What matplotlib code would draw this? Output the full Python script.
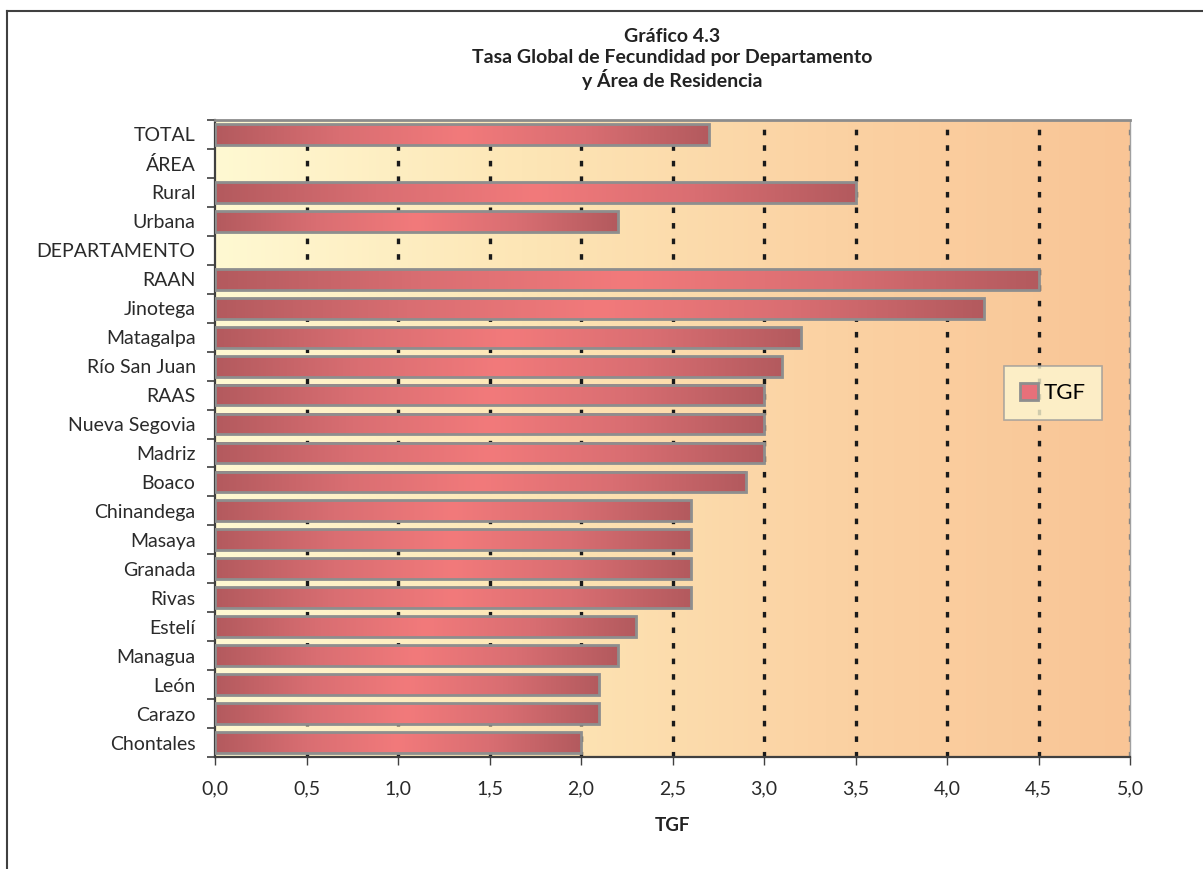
import numpy as np
import matplotlib
matplotlib.use("Agg")
import matplotlib.pyplot as plt
from matplotlib.colors import LinearSegmentedColormap
from matplotlib.patches import Rectangle
from matplotlib.lines import Line2D

plt.rcParams['font.family'] = ['Lato', 'DejaVu Sans']
plt.rcParams['lines.scale_dashes'] = False

categories = ["TOTAL", "ÁREA", "Rural", "Urbana", "DEPARTAMENTO", "RAAN", "Jinotega",
              "Matagalpa", "Río San Juan", "RAAS", "Nueva Segovia", "Madriz", "Boaco",
              "Chinandega", "Masaya", "Granada", "Rivas", "Estelí", "Managua", "León",
              "Carazo", "Chontales"]
values = [2.7, None, 3.5, 2.2, None, 4.5, 4.2, 3.2, 3.1, 3.0, 3.0, 3.0, 2.9,
          2.6, 2.6, 2.6, 2.6, 2.3, 2.2, 2.1, 2.1, 2.0]
xticks = [0.0, 0.5, 1.0, 1.5, 2.0, 2.5, 3.0, 3.5, 4.0, 4.5, 5.0]
xticklabels = ["0,0", "0,5", "1,0", "1,5", "2,0", "2,5", "3,0", "3,5", "4,0", "4,5", "5,0"]
title_lines = ["Gráfico 4.3", "Tasa Global de Fecundidad por Departamento", "y Área de Residencia"]
series_name = "TGF"
xlabel = "TGF"

W, H = 1203, 869
fig = plt.figure(figsize=(W / 100, H / 100), dpi=100)
ax = fig.add_axes([215 / W, 1 - 757 / H, (1130 - 215) / W, (757 - 120) / H])

# background gradient
bg_cmap = LinearSegmentedColormap.from_list("bg", ["#fff9d2", "#fde6b6", "#fbd2a3", "#f9c596"])
grad = np.linspace(0, 1, 256).reshape(1, -1)
ax.imshow(grad, cmap=bg_cmap, aspect='auto', extent=(0, 1, 0, 1),
          transform=ax.transAxes, zorder=0)

n = len(categories)
ax.set_xlim(0, 5)
ax.set_ylim(n - 0.5, -0.5)

# grid lines
for x in xticks[1:-1]:
    ax.add_line(Line2D([x, x], [n - 0.5, -0.5], color="#1a1a1a", lw=2.4,
                       dashes=(4.0, 7.2), zorder=1))
ax.add_line(Line2D([5, 5], [n - 0.5, -0.5], color="#7f7f7f", lw=2.4,
                   dashes=(4.0, 7.2), zorder=1))

bar_cmap = LinearSegmentedColormap.from_list("bar", ["#b35a5e", "#d96e72", "#f27a7b", "#d96e72", "#b35a5e"])
bh = 0.72
for i, v in enumerate(values):
    if v is None:
        continue
    ax.imshow(grad, cmap=bar_cmap, aspect='auto',
              extent=(0, v, i + bh / 2, i - bh / 2), zorder=2)
    ax.add_patch(Rectangle((0, i - bh / 2), v, bh, facecolor='none',
                           edgecolor="#8e8e8e", lw=2.0, zorder=3))
ax.set_ylim(n - 0.5, -0.5)
ax.set_xlim(0, 5)

# axes
ax.set_yticks(range(n))
ax.set_yticklabels(categories, fontsize=14, color="#2a2a2a")
ax.set_yticks(np.arange(-0.5, n, 1.0), minor=True)
ax.tick_params(axis='y', which='major', length=0, pad=14)
ax.tick_params(axis='y', which='minor', length=6, width=1.2, color="#404040", direction='out')
ax.set_xticks(xticks)
ax.set_xticklabels(xticklabels, fontsize=14, color="#2a2a2a")
ax.tick_params(axis='x', which='major', length=6, width=1.0, color="#404040", direction='out', pad=11)
ax.set_xlabel(xlabel, fontsize=13.5, fontweight='bold', labelpad=14, color="#222222")

for s in ['left', 'bottom']:
    ax.spines[s].set_color("#404040")
    ax.spines[s].set_linewidth(1.6)
ax.spines['top'].set_color("#8c8c8c")
ax.spines['top'].set_linewidth(2.0)
ax.spines['right'].set_color("#a0a0a0")
ax.spines['right'].set_linewidth(1.0)

# legend
handle = Rectangle((0, 0), 1, 1, facecolor="#e8707a", edgecolor="#8e8e8e", lw=2.0)
leg = ax.legend([handle], [series_name], loc='center', bbox_to_anchor=(0.916, 0.571),
                fontsize=16, frameon=True, fancybox=False, handlelength=0.8,
                handleheight=0.8, handletextpad=0.25, borderpad=0.75)
leg.get_frame().set_facecolor("#fef8d2")
leg.get_frame().set_edgecolor("#9a9a9a")
leg.get_frame().set_linewidth(1.2)
leg.set_zorder(5)

# title
ys = [36, 58, 80]
for t, y in zip(title_lines, ys):
    fig.text((215 + 1130) / 2 / W, 1 - y / H, t, ha='center', va='center',
             fontsize=14, fontweight='bold', color="#222222")

# outer frame (top and left)
fig.add_artist(Line2D([7 / W, 1.0], [1 - 11 / H, 1 - 11 / H], transform=fig.transFigure,
                      color="#404040", lw=1.5))
fig.add_artist(Line2D([7 / W, 7 / W], [0, 1 - 11 / H], transform=fig.transFigure,
                      color="#404040", lw=1.5))

fig.savefig("out.png", dpi=100)
